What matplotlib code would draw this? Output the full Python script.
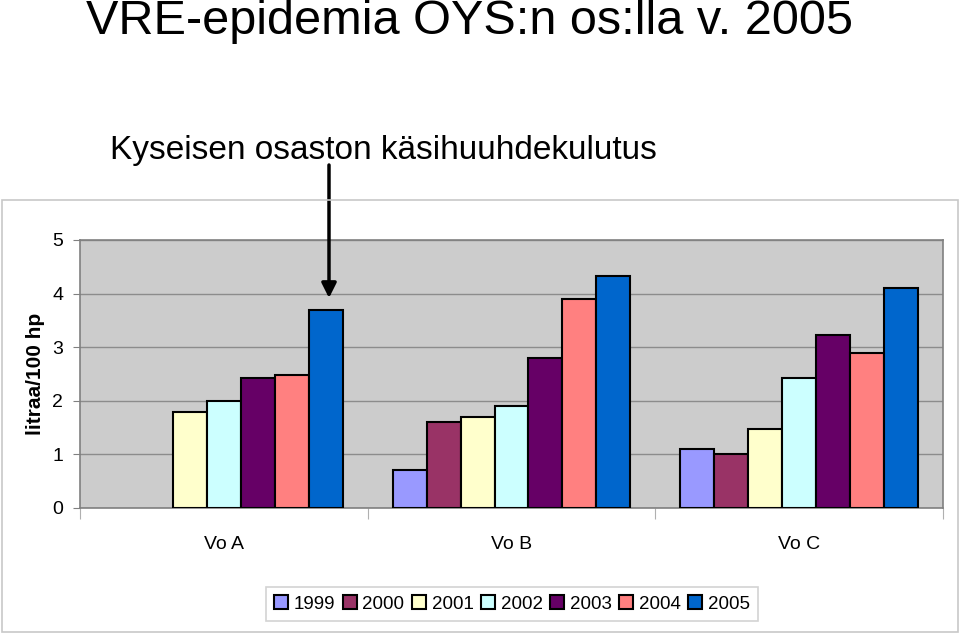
import numpy as np
import matplotlib
matplotlib.use("Agg")
import matplotlib.pyplot as plt
import matplotlib.patches as patches

plt.rcParams["font.family"] = ["Liberation Sans", "DejaVu Sans"]

# --- Daten (litraa/100 hp) ---
categories = ["Vo A", "Vo B", "Vo C"]
years = ["1999", "2000", "2001", "2002", "2003", "2004", "2005"]
v1999 = [np.nan, 0.7, 1.1]
v2000 = [np.nan, 1.6, 1.0]
v2001 = [1.8, 1.7, 1.48]
v2002 = [2.0, 1.9, 2.42]
v2003 = [2.42, 2.8, 3.22]
v2004 = [2.48, 3.9, 2.9]
v2005 = [3.7, 4.32, 4.1]
series = [v1999, v2000, v2001, v2002, v2003, v2004, v2005]
colors = ["#9999FF", "#993366", "#FFFFCC", "#CCFFFF", "#660066", "#FF8080", "#0066CC"]

fig = plt.figure(figsize=(9.6, 6.34), dpi=100)

# Rahmen um Diagrammbereich
frame = patches.Rectangle((2 / 960, 2 / 634), 956 / 960, 432 / 634,
                          transform=fig.transFigure, fill=False,
                          edgecolor="#c8c8c8", linewidth=1.2)
fig.patches.append(frame)

ax = fig.add_axes([80 / 960, 126 / 634, 863 / 960, 268 / 634])
ax.set_facecolor("#CCCCCC")

x = np.arange(len(categories))
w = 0.118
n = len(series)
handles = []
for i, (vals, c) in enumerate(zip(series, colors)):
    off = (i - (n - 1) / 2) * w
    b = ax.bar(x + off, vals, width=w, color=c, edgecolor="black",
               linewidth=1.5, zorder=3, label=years[i])
    handles.append(b)

ax.set_xlim(-0.5, 2.5)
ax.set_ylim(0, 5)
ax.set_yticks(range(6))
ax.yaxis.grid(True, color="#8c8c8c", linewidth=1, zorder=0)
ax.set_axisbelow(True)
ax.tick_params(axis="y", labelsize=14, length=5, color="#808080", pad=7)

ax.set_xticks([-0.5, 0.5, 1.5, 2.5])
ax.set_xticklabels([])
ax.set_xticks(x, minor=True)
ax.set_xticklabels(categories, minor=True)
ax.tick_params(axis="x", which="major", length=8, color="#b0b0b0")
ax.tick_params(axis="x", which="minor", length=0, labelsize=14, pad=20)

for s in ax.spines.values():
    s.set_color("#808080")
    s.set_linewidth(1.2)

ax.set_ylabel("litraa/100 hp", fontsize=15, fontweight="bold", labelpad=5)

# Titel
fig.text(470 / 960, 1 - 22 / 634, "VRE-epidemia OYS:n os:lla v. 2005",
         ha="center", va="center", fontsize=35)
fig.text(110 / 960, 1 - 151 / 634, "Kyseisen osaston käsihuuhdekulutus",
         ha="left", va="center", fontsize=24)

# Pfeil zur Säule 2005
ax.annotate("", xy=(329 / 960, 1 - 298 / 634), xycoords="figure fraction",
            xytext=(329 / 960, 1 - 165 / 634), textcoords="figure fraction",
            arrowprops=dict(arrowstyle="-|>", color="black", lw=2.5,
                            mutation_scale=22, shrinkA=0, shrinkB=0))

leg = fig.legend(handles=handles, labels=years, ncol=7,
                 loc="center", bbox_to_anchor=(512 / 960, 30 / 634),
                 fontsize=13.5, frameon=True, fancybox=False,
                 handlelength=0.75, handleheight=0.75, handletextpad=0.3,
                 columnspacing=0.4, borderpad=0.45)
leg.get_frame().set_edgecolor("#c8c8c8")
leg.get_frame().set_linewidth(1.2)

fig.savefig("out.png", dpi=100)
